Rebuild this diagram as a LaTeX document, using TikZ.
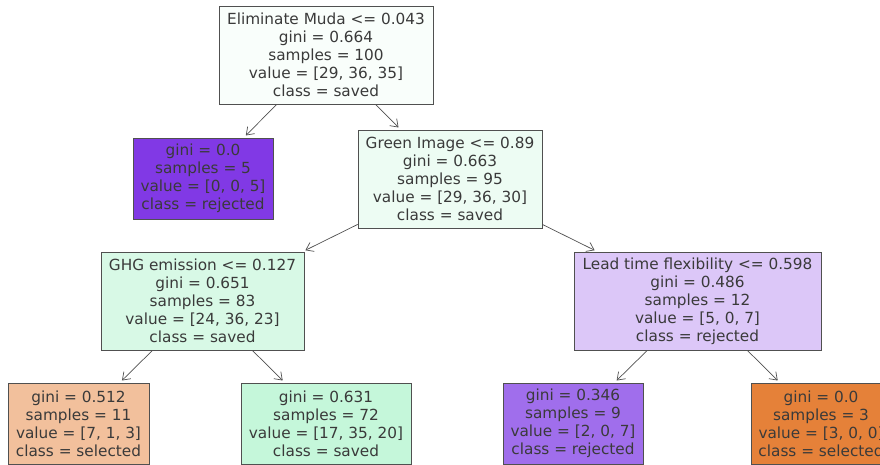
\documentclass[tikz,border=0pt]{standalone}
\usepackage{fontspec}
\setmainfont{DejaVu Sans}
\usetikzlibrary{arrows.meta}
\definecolor{txt}{HTML}{3A3A3A}
\definecolor{edge}{HTML}{505050}
\definecolor{cRoot}{HTML}{F9FEFB}
\definecolor{cLone}{HTML}{8139E5}
\definecolor{cGreen}{HTML}{EDFCF3}
\definecolor{cGhg}{HTML}{D8F9E6}
\definecolor{cLead}{HTML}{DCC7F8}
\definecolor{cLL}{HTML}{F2C09C}
\definecolor{cLR}{HTML}{C5F7DA}
\definecolor{cRL}{HTML}{A06EEC}
\definecolor{cRR}{HTML}{E58139}
\tikzset{
  tbox/.style={draw=edge, line width=0.8pt, text=txt, align=center, inner sep=0pt,
    font=\fontsize{15.3}{18}\selectfont},
  big/.style={tbox, minimum height=98pt},
  small/.style={tbox, minimum height=81pt},
  arr/.style={draw=edge, line width=0.7pt, -{Straight Barb[length=7pt,width=10pt]}, shorten >=3pt}
}
\begin{document}
\begin{tikzpicture}[x=1pt,y=-1pt]
\useasboundingbox (0,0) rectangle (880,464);
\clip (0,0) rectangle (880,464);
\node[big, fill=cRoot, minimum width=214pt] (root) at (326,55)
  {Eliminate Muda <= 0.043\\gini = 0.664\\samples = 100\\value = [29, 36, 35]\\class = saved};
\node[small, fill=cLone, minimum width=140pt] (l1) at (203,178.5)
  {gini = 0.0\\samples = 5\\value = [0, 0, 5]\\class = rejected};
\node[big, fill=cGreen, minimum width=184pt] (green) at (450,179)
  {Green Image <= 0.89\\gini = 0.663\\samples = 95\\value = [29, 36, 30]\\class = saved};
\node[big, fill=cGhg, minimum width=203pt] (ghg) at (202.5,301)
  {GHG emission <= 0.127\\gini = 0.651\\samples = 83\\value = [24, 36, 23]\\class = saved};
\node[big, fill=cLead, minimum width=247pt] (lead) at (697.5,301)
  {Lead time flexibility <= 0.598\\gini = 0.486\\samples = 12\\value = [5, 0, 7]\\class = rejected};
\node[small, fill=cLL, minimum width=141pt] (ll) at (78.5,423.5)
  {gini = 0.512\\samples = 11\\value = [7, 1, 3]\\class = selected};
\node[small, fill=cLR, minimum width=170pt] (lr) at (326,423.5)
  {gini = 0.631\\samples = 72\\value = [17, 35, 20]\\class = saved};
\node[small, fill=cRL, minimum width=140pt] (rl) at (573,423.5)
  {gini = 0.346\\samples = 9\\value = [2, 0, 7]\\class = rejected};
\node[small, fill=cRR, minimum width=140pt] (rr) at (821,423.5)
  {gini = 0.0\\samples = 3\\value = [3, 0, 0]\\class = selected};
\draw[arr] (root) -- (l1);
\draw[arr] (root) -- (green);
\draw[arr] (green) -- (ghg);
\draw[arr] (green) -- (lead);
\draw[arr] (ghg) -- (ll);
\draw[arr] (ghg) -- (lr);
\draw[arr] (lead) -- (rl);
\draw[arr] (lead) -- (rr);
\end{tikzpicture}
\end{document}
